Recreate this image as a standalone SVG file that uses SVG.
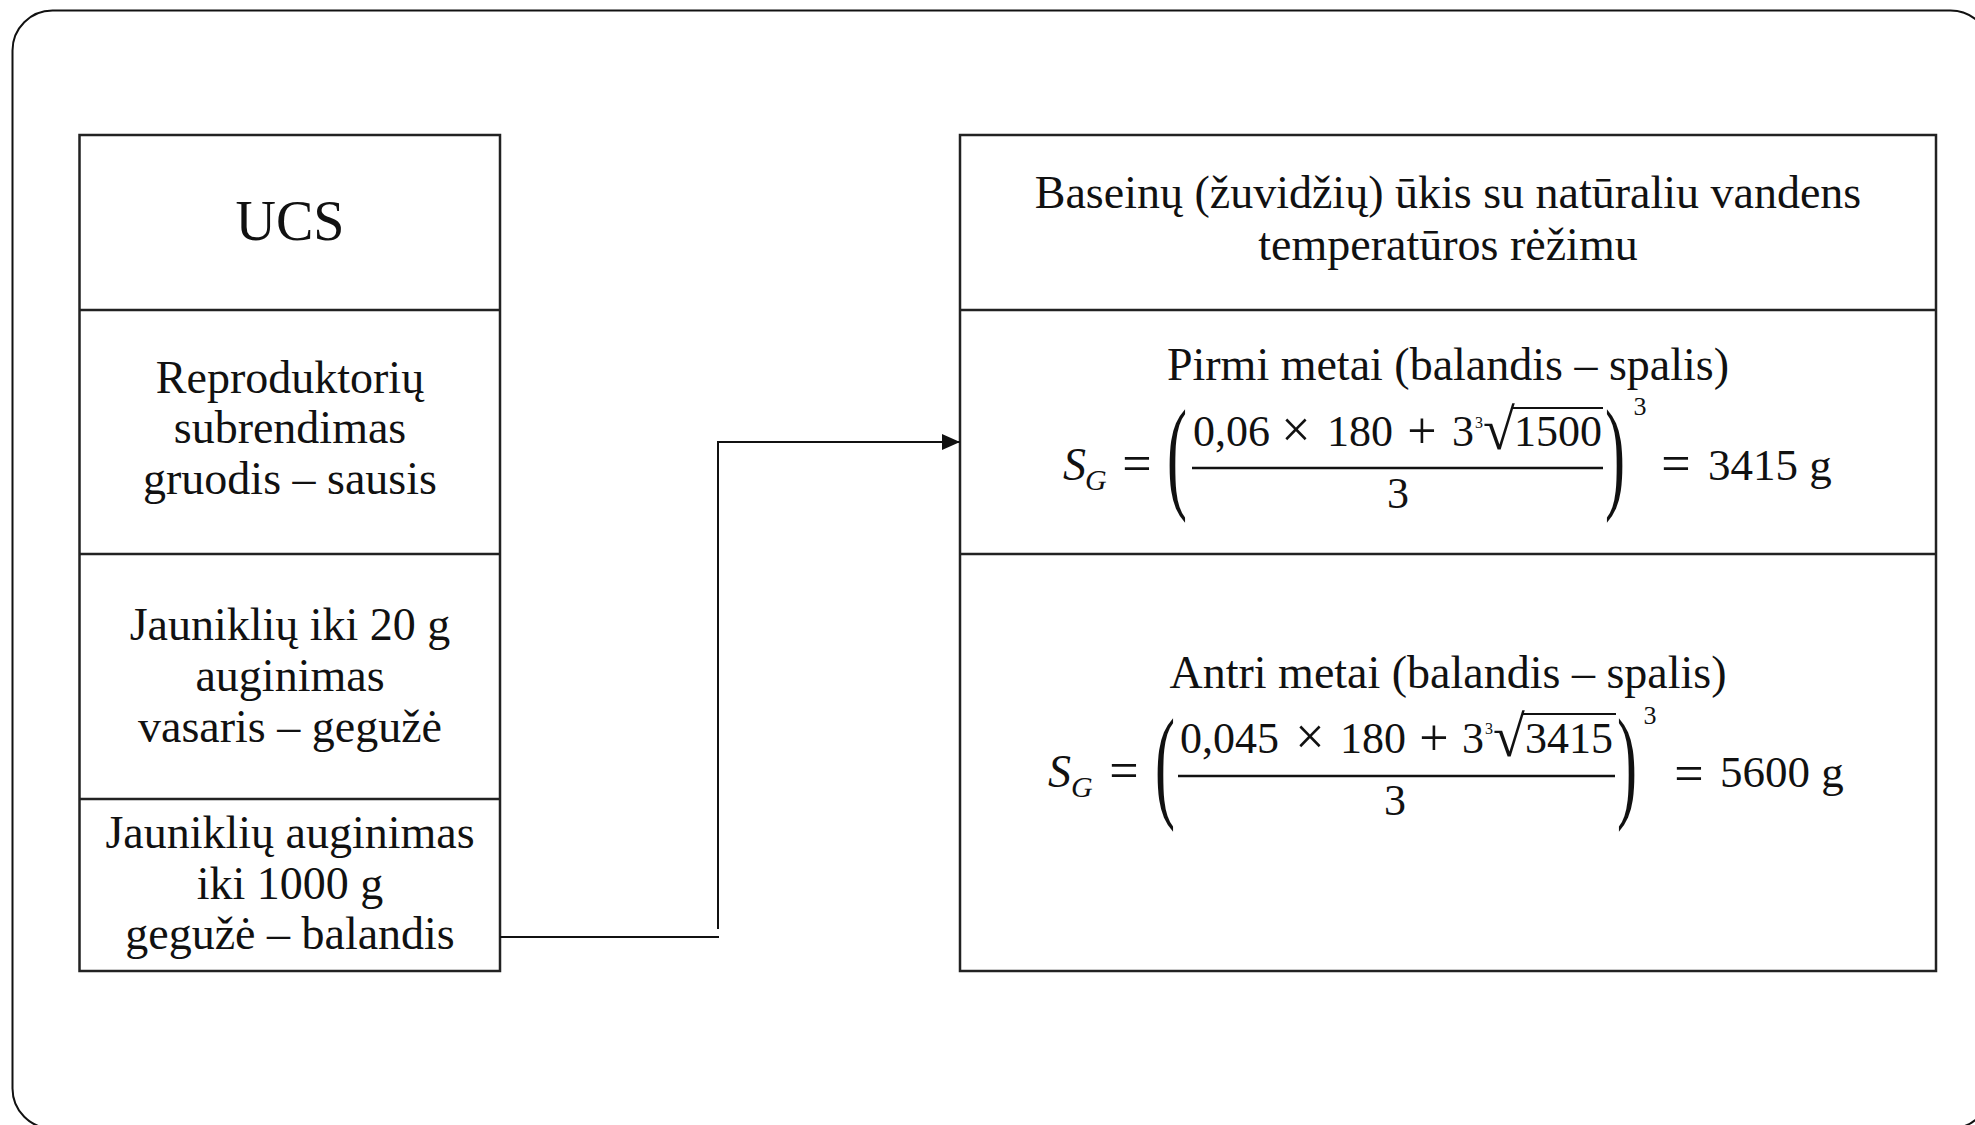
<svg xmlns="http://www.w3.org/2000/svg" width="1975" height="1125" viewBox="0 0 1975 1125">
  <defs>
    <style>
      .frame { fill: none; stroke: #111; stroke-width: 2; }
      .box { fill: #fff; stroke: #222; stroke-width: 2.5; }
      .div { stroke: #222; stroke-width: 2.5; }
      .t { font-family: "Liberation Serif", "Times New Roman", serif; fill: #111; text-anchor: middle; }
      .m { font-family: "Liberation Serif", "Times New Roman", serif; fill: #111; }
      .mi { font-family: "Liberation Serif", "Times New Roman", serif; font-style: italic; fill: #111; }
      .bar { stroke: #111; stroke-width: 2.5; }
      .vinc { stroke: #111; stroke-width: 2; }
      .conn { fill: none; stroke: #111; stroke-width: 2; }
    </style>
    <marker id="arrow" markerUnits="userSpaceOnUse" markerWidth="18" markerHeight="16" refX="18" refY="8" orient="auto">
      <path d="M0,0 L18,8 L0,16 z" fill="#111"/>
    </marker>
  </defs>

  <rect width="1975" height="1125" fill="#fff"/>

  <!-- outer rounded frame, running past the right and bottom edges -->
  <rect class="frame" x="12.5" y="10.5" width="1978" height="1118" rx="40" ry="40"/>

  <!-- left column: UCS stages -->
  <g id="ucs">
    <rect class="box" x="79.5" y="135" width="420.5" height="836"/>
    <line class="div" x1="79.5" y1="310" x2="500" y2="310"/>
    <line class="div" x1="79.5" y1="554" x2="500" y2="554"/>
    <line class="div" x1="79.5" y1="799" x2="500" y2="799"/>
    <text class="t" x="290" y="240" font-size="56">UCS</text>
  </g>
  <g id="stage-broodstock">
    <text class="t" x="290" y="393" font-size="46">Reproduktorių</text>
    <text class="t" x="290" y="443" font-size="46">subrendimas</text>
    <text class="t" x="290" y="494" font-size="46">gruodis – sausis</text>
  </g>
  <g id="stage-fry-20g">
    <text class="t" x="290" y="640" font-size="46">Jauniklių iki 20 g</text>
    <text class="t" x="290" y="691" font-size="46">auginimas</text>
    <text class="t" x="290" y="742" font-size="46">vasaris – gegužė</text>
  </g>
  <g id="stage-fry-1000g">
    <text class="t" x="290" y="848" font-size="46">Jauniklių auginimas</text>
    <text class="t" x="290" y="899" font-size="46">iki 1000 g</text>
    <text class="t" x="290" y="949" font-size="46">gegužė – balandis</text>
  </g>

  <!-- right column: pond farm -->
  <g id="pond-farm">
    <rect class="box" x="960" y="135" width="976" height="836"/>
    <line class="div" x1="960" y1="310" x2="1936" y2="310"/>
    <line class="div" x1="960" y1="554" x2="1936" y2="554"/>
    <text class="t" x="1448" y="208" font-size="46">Baseinų (žuvidžių) ūkis su natūraliu vandens</text>
    <text class="t" x="1448" y="260" font-size="46">temperatūros rėžimu</text>
  </g>

  <!-- first year growth formula -->
  <g id="year-1">
    <text class="t" x="1448" y="380" font-size="46">Pirmi metai (balandis – spalis)</text>
    <text class="mi" x="1063" y="480" font-size="46">S</text>
    <text class="mi" x="1085" y="490" font-size="30">G</text>
    <text class="m" x="1137" y="481" font-size="52" text-anchor="middle">=</text>
    <text class="m" transform="translate(1167,496) scale(1,2.1)" font-size="60">(</text>
    <text class="m" x="1193" y="446" font-size="44">0,06</text>
    <text class="m" x="1296" y="447" font-size="52" text-anchor="middle">×</text>
    <text class="m" x="1327" y="446" font-size="44">180</text>
    <text class="m" x="1422" y="448" font-size="52" text-anchor="middle">+</text>
    <text class="m" x="1452" y="446" font-size="44">3</text>
    <text class="m" x="1475" y="428" font-size="16">3</text>
    <text class="m" x="1483" y="449" font-size="58">√</text>
    <line class="vinc" x1="1512" y1="408" x2="1603" y2="408"/>
    <text class="m" x="1514" y="446" font-size="44">1500</text>
    <line class="bar" x1="1192" y1="468" x2="1603" y2="468"/>
    <text class="m" x="1398" y="508" font-size="44" text-anchor="middle">3</text>
    <text class="m" transform="translate(1605,496) scale(1,2.1)" font-size="60">)</text>
    <text class="m" x="1640" y="415" font-size="26" text-anchor="middle">3</text>
    <text class="m" x="1676" y="481" font-size="52" text-anchor="middle">=</text>
    <text class="m" x="1708" y="480" font-size="45">3415 g</text>
  </g>

  <!-- second year growth formula -->
  <g id="year-2">
    <text class="t" x="1448" y="688" font-size="46">Antri metai (balandis – spalis)</text>
    <text class="mi" x="1048" y="787" font-size="46">S</text>
    <text class="mi" x="1071" y="797" font-size="30">G</text>
    <text class="m" x="1124" y="788" font-size="52" text-anchor="middle">=</text>
    <text class="m" transform="translate(1155,805) scale(1,2.1)" font-size="60">(</text>
    <text class="m" x="1180" y="753" font-size="44">0,045</text>
    <text class="m" x="1310" y="754" font-size="52" text-anchor="middle">×</text>
    <text class="m" x="1340" y="753" font-size="44">180</text>
    <text class="m" x="1434" y="755" font-size="52" text-anchor="middle">+</text>
    <text class="m" x="1462" y="753" font-size="44">3</text>
    <text class="m" x="1485" y="734" font-size="16">3</text>
    <text class="m" x="1493" y="756" font-size="58">√</text>
    <line class="vinc" x1="1522" y1="714" x2="1616" y2="714"/>
    <text class="m" x="1525" y="753" font-size="44">3415</text>
    <line class="bar" x1="1178" y1="776" x2="1615" y2="776"/>
    <text class="m" x="1395" y="815" font-size="44" text-anchor="middle">3</text>
    <text class="m" transform="translate(1617,805) scale(1,2.1)" font-size="60">)</text>
    <text class="m" x="1650" y="724" font-size="26" text-anchor="middle">3</text>
    <text class="m" x="1689" y="791" font-size="52" text-anchor="middle">=</text>
    <text class="m" x="1720" y="787" font-size="45">5600 g</text>
  </g>

  <!-- connector from the last UCS stage to the pond farm -->
  <g id="connectors">
    <path class="conn" d="M500,937 H719"/>
    <path class="conn" d="M718,929 V442 H960" marker-end="url(#arrow)"/>
  </g>
</svg>
